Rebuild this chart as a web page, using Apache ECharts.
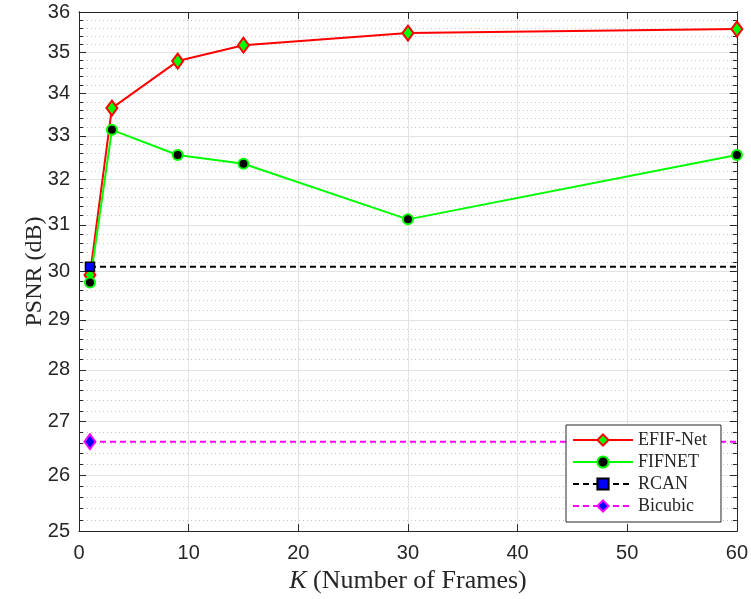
<!DOCTYPE html>
<html>
<head>
<meta charset="utf-8">
<script src="https://cdn.jsdelivr.net/npm/echarts@6/dist/echarts.min.js"></script>
<style>
html,body{margin:0;padding:0;background:#fff;}
#chart{width:751px;height:599px;}
</style>
</head>
<body>
<div id="chart"></div>
<script>
var kValues = [1, 3, 9, 15, 30, 60];
var efifNet = [29.93, 33.65, 34.78, 35.17, 35.47, 35.57];
var fifnet = [29.77, 33.14, 32.56, 32.36, 31.12, 32.56];
var rcanValue = 30.10;
var bicubicValue = 26.62;
var yMajorTicks = [25, 26, 27, 28, 29, 30, 31, 32, 33, 34, 35, 36];
var xTicks = [0, 10, 20, 30, 40, 50, 60];
var yMinorTicks = [];
for (var i = 0; i < yMajorTicks.length - 1; i++) {
  for (var j = 1; j <= 4; j++) {
    yMinorTicks.push(+(yMajorTicks[i] + 0.2 * j).toFixed(1));
  }
}

var axisColor = '#262626';
var sansFont = 'Liberation Sans';
var serifFont = 'Liberation Serif';

function pairs(xs, ys) { return xs.map(function (x, i) { return [x, ys[i]]; }); }

function yAxisDef(opts) {
  return {
    type: 'log', logBase: 10, min: 25, max: 36,
    position: opts.position,
    axisLine: { show: true, onZero: false, lineStyle: { color: axisColor, width: 1 } },
    axisTick: { show: true, inside: true, length: opts.tickLen, customValues: opts.ticks, lineStyle: { color: axisColor } },
    axisLabel: opts.labels ? {
      show: true, customValues: opts.ticks, margin: 9, color: axisColor,
      fontFamily: sansFont, fontSize: 20,
      formatter: function (v) { return String(Math.round(v)); }
    } : { show: false },
    splitLine: opts.split ? { show: true, lineStyle: opts.split } : { show: false },
    minorTick: { show: false }, minorSplitLine: { show: false },
    name: opts.name || '',
    nameLocation: 'middle', nameGap: 32, nameMoveOverlap: false,
    nameTextStyle: { fontFamily: serifFont, fontSize: 24, color: axisColor }
  };
}

var chart = echarts.init(document.getElementById('chart'), null, { renderer: 'canvas' });
chart.setOption({
  backgroundColor: '#ffffff',
  animation: false,
  grid: { left: 79, right: 13, top: 12, bottom: 67, containLabel: false },
  xAxis: [{
    type: 'value', min: 0, max: 60, interval: 10, position: 'bottom',
    axisLine: { show: true, onZero: false, lineStyle: { color: axisColor, width: 1 } },
    axisTick: { show: true, inside: true, length: 7, lineStyle: { color: axisColor } },
    axisLabel: { color: axisColor, fontFamily: sansFont, fontSize: 20, margin: 12,
      formatter: function (v) { return String(v); } },
    splitLine: { show: true, lineStyle: { color: '#e3e3e3', width: 1 } },
    name: '{i|K} (Number of Frames)', nameLocation: 'middle', nameGap: 35,
    nameTextStyle: { fontFamily: serifFont, fontSize: 26, color: axisColor,
      rich: { i: { fontFamily: serifFont, fontStyle: 'italic', fontSize: 26, color: axisColor } } }
  }, {
    type: 'value', min: 0, max: 60, interval: 10, position: 'top',
    axisLine: { show: true, onZero: false, lineStyle: { color: axisColor, width: 1 } },
    axisTick: { show: true, inside: true, length: 7, lineStyle: { color: axisColor } },
    axisLabel: { show: false }, splitLine: { show: false }
  }],
  yAxis: [
    yAxisDef({ position: 'left', ticks: yMajorTicks, tickLen: 7, labels: true,
      split: { color: '#e3e3e3', width: 1, type: 'solid' }, name: 'PSNR (dB)' }),
    yAxisDef({ position: 'left', ticks: yMinorTicks, tickLen: 4, labels: false,
      split: { color: '#c4c4c4', width: 1, type: [1, 3] } }),
    yAxisDef({ position: 'right', ticks: yMajorTicks, tickLen: 7, labels: false }),
    yAxisDef({ position: 'right', ticks: yMinorTicks, tickLen: 4, labels: false })
  ],
  legend: {
    orient: 'vertical', left: 566, top: 425, z: 50,
    backgroundColor: '#ffffff', borderColor: axisColor, borderWidth: 1,
    padding: [6, 14, 7, 6], itemWidth: 60, itemHeight: 14, itemGap: 4,
    textStyle: { fontFamily: serifFont, fontSize: 18, color: axisColor, padding: [0, 0, 0, 0] },
    data: ['EFIF-Net', 'FIFNET', 'RCAN', 'Bicubic']
  },
  series: [{
    name: 'EFIF-Net', type: 'line', data: pairs(kValues, efifNet),
    symbol: 'diamond', symbolSize: [11, 15],
    lineStyle: { color: '#ff0000', width: 2 },
    itemStyle: { color: '#00ff00', borderColor: '#ff0000', borderWidth: 2 },
    z: 3
  }, {
    name: 'FIFNET', type: 'line', data: pairs(kValues, fifnet),
    symbol: 'circle', symbolSize: 10,
    lineStyle: { color: '#00ff00', width: 2 },
    itemStyle: { color: '#000000', borderColor: '#00ff00', borderWidth: 2 },
    z: 4
  }, {
    name: 'RCAN', type: 'line',
    data: [[kValues[0], rcanValue], { value: [kValues[kValues.length - 1], rcanValue], symbol: 'none' }],
    symbol: 'rect', symbolSize: 9,
    lineStyle: { color: '#000000', width: 2, type: [6, 4] },
    itemStyle: { color: '#0000ff', borderColor: '#000000', borderWidth: 1.5 },
    z: 5
  }, {
    name: 'Bicubic', type: 'line',
    data: [[kValues[0], bicubicValue], { value: [kValues[kValues.length - 1], bicubicValue], symbol: 'none' }],
    symbol: 'diamond', symbolSize: [11, 15],
    lineStyle: { color: '#ff00ff', width: 2, type: [6, 4] },
    itemStyle: { color: '#0000ff', borderColor: '#ff00ff', borderWidth: 2 },
    z: 5
  }]
});
</script>
</body>
</html>
